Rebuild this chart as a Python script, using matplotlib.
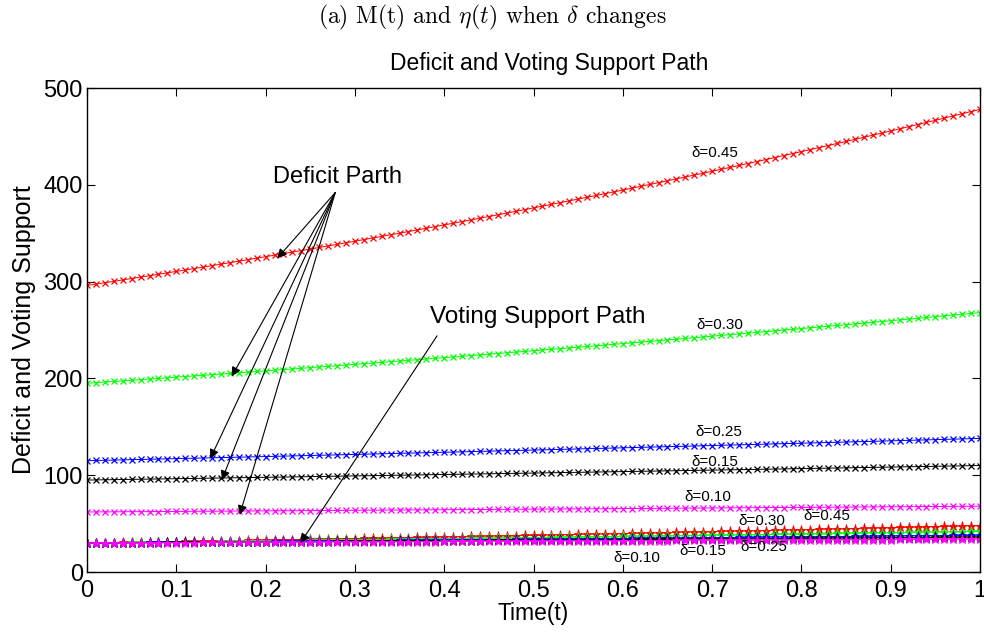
import numpy as np
import matplotlib
matplotlib.use("Agg")
import matplotlib.pyplot as plt

plt.rcParams['font.family'] = ['Liberation Sans', 'DejaVu Sans']
plt.rcParams['mathtext.fontset'] = 'cm'

t = np.linspace(0, 1, 101)

deltas = ['0.45', '0.30', '0.25', '0.15', '0.10']
colors = ['#ff0000', '#00ff00', '#0000ff', '#000000', '#ff00ff']
deficit_start = [296, 195, 115, 95, 62]
deficit_end = [478, 268, 138, 110, 68]
vote_start = [30, 30, 30, 30, 30]
vote_end = [48, 42, 38, 36, 34]

fig = plt.figure(figsize=(9.84, 6.35), dpi=100)
ax = fig.add_axes([0.0884, 0.0992, 0.9076, 0.7622])

for c, d0, d1 in zip(colors, deficit_start, deficit_end):
    ax.plot(t, d0 * (d1 / d0) ** t, '-x', color=c, lw=0.7, ms=5, mew=0.9)
for c, v0, v1 in zip(colors, vote_start, vote_end):
    ax.plot(t, v0 * (v1 / v0) ** t, '-*', color=c, lw=0.7, ms=6.5, mew=0.6)

ax.set_xlim(0, 1)
ax.set_ylim(0, 500)
ax.set_xticks(np.arange(0, 1.01, 0.1))
ax.set_xticklabels(['0', '0.1', '0.2', '0.3', '0.4', '0.5', '0.6', '0.7', '0.8', '0.9', '1'])
ax.set_yticks([0, 100, 200, 300, 400, 500])
ax.tick_params(direction='in', top=True, right=True, labelsize=17, length=6, width=0.8)
ax.tick_params(axis='x', pad=6)
ax.tick_params(axis='y', pad=3)
for s in ax.spines.values():
    s.set_linewidth(1.0)

ax.set_xlabel('Time(t)', fontsize=16.5, labelpad=0)
ax.set_ylabel('Deficit and Voting Support', fontsize=18, labelpad=5)
ax.set_title('Deficit and Voting Support Path', fontsize=16.5, pad=13, x=0.517)

fig.text(0.5, 0.972, r'(a) M(t) and $\eta(t)$ when $\delta$ changes', ha='center', va='center',
         fontsize=17, family='cmr10')

# upper labels
lab_t = [0.703, 0.709, 0.707, 0.703, 0.695]
lab_y = [433, 255, 145, 114, 77]
for d, x, y in zip(deltas, lab_t, lab_y):
    ax.text(x, y, 'δ=' + d, fontsize=11, ha='center', va='center')
# lower labels
low_t = [0.828, 0.756, 0.758, 0.689, 0.616]
low_y = [58, 53, 26, 22, 14]
for d, x, y in zip(deltas, low_t, low_y):
    ax.text(x, y, 'δ=' + d, fontsize=11, ha='center', va='center')

# annotations
ax.text(0.28, 408, 'Deficit Parth', fontsize=17, ha='center', va='center')
heads = [(0.213, 324), (0.162, 202), (0.138, 117), (0.151, 95), (0.171, 59)]
for hx, hy in heads:
    ax.annotate('', xy=(hx, hy), xytext=(0.278, 392),
                arrowprops=dict(arrowstyle='-|>', color='black', lw=0.8,
                                mutation_scale=14, shrinkA=0, shrinkB=0))
ax.text(0.384, 263, 'Voting Support Path', fontsize=17.5, ha='left', va='center')
ax.annotate('', xy=(0.239, 30), xytext=(0.392, 244),
            arrowprops=dict(arrowstyle='-|>', color='black', lw=0.8,
                            mutation_scale=14, shrinkA=0, shrinkB=0))

fig.savefig('out.png', dpi=100)
